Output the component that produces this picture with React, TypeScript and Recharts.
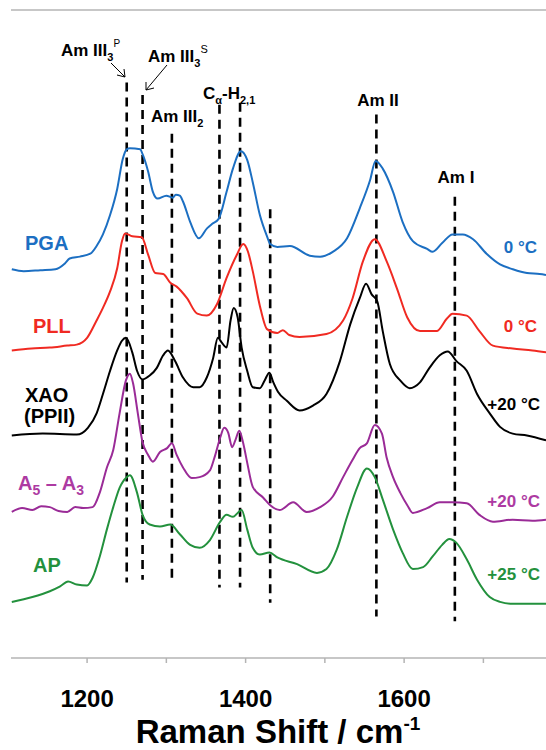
import { LineChart, Line, XAxis, YAxis, ReferenceLine } from 'recharts';

// Raman spectra, [shift cm-1, offset intensity]
const PGA: [number, number][] = [
  [1105, 3.32], [1120, 3.3], [1141, 3.31], [1160, 3.32], [1172, 3.38], [1178, 3.43], [1191, 3.45],
  [1204, 3.48], [1212, 3.56], [1220, 3.68], [1229, 3.88], [1238, 4.15], [1245, 4.46], [1250, 4.56],
  [1254, 4.57], [1267, 4.56], [1270, 4.51], [1277, 4.33], [1283, 4.12], [1289, 4.05], [1300, 4.08],
  [1308, 4.06], [1312, 4.09], [1317, 4.08], [1321, 4.02], [1330, 3.81], [1341, 3.64], [1351, 3.74],
  [1358, 3.79], [1366, 3.84], [1376, 4.12], [1384, 4.36], [1394, 4.54], [1402, 4.45], [1409, 4.22],
  [1418, 3.88], [1427, 3.66], [1431, 3.58], [1440, 3.55], [1456, 3.56], [1481, 3.46], [1494, 3.45],
  [1510, 3.5], [1528, 3.64], [1544, 3.95], [1557, 4.24], [1564, 4.44], [1573, 4.36], [1586, 4.12],
  [1598, 3.81], [1611, 3.61], [1629, 3.53], [1636, 3.5], [1648, 3.59], [1661, 3.68], [1674, 3.68],
  [1687, 3.63], [1704, 3.48], [1721, 3.37], [1737, 3.32], [1755, 3.28], [1771, 3.27], [1779, 3.26],
];

const PLL: [number, number][] = [
  [1105, 2.48], [1130, 2.5], [1153, 2.51], [1175, 2.53], [1187, 2.54], [1200, 2.61], [1212, 2.79],
  [1220, 2.92], [1229, 3.09], [1238, 3.33], [1244, 3.61], [1248, 3.69], [1257, 3.66], [1269, 3.65],
  [1277, 3.47], [1286, 3.28], [1296, 3.27], [1305, 3.18], [1313, 3.14], [1326, 3.02], [1339, 2.86],
  [1351, 2.84], [1364, 2.96], [1376, 3.23], [1389, 3.47], [1397, 3.58], [1403, 3.5], [1409, 3.3],
  [1418, 2.94], [1427, 2.7], [1440, 2.66], [1447, 2.69], [1455, 2.64], [1468, 2.62], [1502, 2.65],
  [1523, 2.79], [1535, 3.02], [1548, 3.4], [1563, 3.63], [1578, 3.4], [1591, 3.12], [1604, 2.82],
  [1620, 2.68], [1641, 2.68], [1654, 2.81], [1661, 2.86], [1679, 2.84], [1695, 2.68], [1712, 2.53],
  [1737, 2.5], [1762, 2.48], [1779, 2.46],
];

const XAO: [number, number][] = [
  [1105, 1.6], [1144, 1.62], [1187, 1.61], [1201, 1.68], [1212, 1.83], [1220, 2.03], [1229, 2.27],
  [1238, 2.48], [1244, 2.58], [1249, 2.61], [1257, 2.46], [1263, 2.27], [1270, 2.18], [1279, 2.22],
  [1288, 2.3], [1296, 2.43], [1302, 2.48], [1311, 2.37], [1321, 2.2], [1334, 2.1], [1342, 2.1],
  [1351, 2.2], [1359, 2.4], [1365, 2.61], [1370, 2.56], [1376, 2.51], [1381, 2.79], [1385, 2.92],
  [1390, 2.82], [1395, 2.51], [1402, 2.27], [1409, 2.1], [1418, 2.09], [1424, 2.17], [1430, 2.25],
  [1435, 2.15], [1441, 2.05], [1452, 1.96], [1468, 1.86], [1485, 1.91], [1502, 2.03], [1519, 2.37],
  [1532, 2.75], [1544, 3.02], [1552, 3.17], [1559, 3.06], [1566, 2.99], [1573, 2.68], [1582, 2.34],
  [1595, 2.17], [1607, 2.09], [1620, 2.15], [1632, 2.3], [1645, 2.43], [1655, 2.47], [1666, 2.37],
  [1679, 2.27], [1692, 2.03], [1708, 1.83], [1721, 1.69], [1737, 1.62], [1755, 1.6], [1779, 1.55],
];

const A5A3: [number, number][] = [
  [1105, 0.81], [1118, 0.85], [1131, 0.83], [1142, 0.87], [1153, 0.86], [1164, 0.82], [1175, 0.81],
  [1185, 0.86], [1195, 0.85], [1207, 0.86], [1216, 1.01], [1225, 1.27], [1233, 1.45], [1241, 1.83],
  [1249, 2.17], [1254, 2.24], [1258, 2.14], [1264, 1.83], [1270, 1.53], [1277, 1.4], [1283, 1.33],
  [1292, 1.43], [1301, 1.47], [1307, 1.52], [1313, 1.4], [1321, 1.27], [1332, 1.16], [1342, 1.17],
  [1355, 1.24], [1361, 1.38], [1368, 1.58], [1373, 1.68], [1378, 1.63], [1383, 1.48], [1387, 1.55],
  [1392, 1.65], [1397, 1.52], [1402, 1.32], [1409, 1.07], [1422, 0.96], [1431, 0.88], [1443, 0.83],
  [1460, 0.91], [1477, 0.81], [1494, 0.86], [1510, 0.97], [1523, 1.17], [1535, 1.35], [1544, 1.47],
  [1553, 1.52], [1563, 1.71], [1572, 1.62], [1578, 1.37], [1586, 1.17], [1595, 1.01], [1604, 0.88],
  [1611, 0.8], [1629, 0.85], [1645, 0.91], [1661, 0.91], [1679, 0.9], [1695, 0.78], [1712, 0.71],
  [1737, 0.73], [1762, 0.72], [1779, 0.73],
];

const AP: [number, number][] = [
  [1105, -0.12], [1131, -0.07], [1153, -0.01], [1166, 0.04], [1176, 0.09], [1187, 0.06], [1200, 0.05],
  [1207, 0.13], [1216, 0.35], [1225, 0.63], [1233, 0.86], [1241, 1.06], [1250, 1.17], [1254, 1.19],
  [1263, 1.01], [1270, 0.78], [1279, 0.68], [1292, 0.66], [1305, 0.68], [1317, 0.58], [1330, 0.47],
  [1342, 0.44], [1355, 0.52], [1368, 0.71], [1376, 0.78], [1384, 0.76], [1390, 0.8], [1395, 0.83],
  [1402, 0.63], [1409, 0.44], [1418, 0.37], [1430, 0.39], [1440, 0.34], [1465, 0.27], [1490, 0.18],
  [1502, 0.22], [1515, 0.42], [1528, 0.76], [1541, 1.07], [1553, 1.26], [1563, 1.17], [1573, 0.94],
  [1586, 0.63], [1598, 0.39], [1611, 0.22], [1624, 0.24], [1636, 0.35], [1648, 0.47], [1657, 0.53],
  [1666, 0.49], [1679, 0.32], [1692, 0.11], [1708, -0.07], [1721, -0.12], [1737, -0.14], [1779, -0.14],
];

// assigned bands (dashed markers)
const bandShift = [1250, 1270, 1307, 1367, 1393, 1431, 1565, 1664];
const bandTop = [5.25, 5.12, 4.72, 5.02, 5.04, 3.94, 4.92, 4.07];
const bandBottom = [0.08, 0.11, 0.07, 0.03, 0.03, -0.13, -0.27, -0.32];

const xTicks = [1200, 1300, 1400, 1500, 1600, 1700];
const xLabels = [1200, 1400, 1600];
const yTicks = [0, 1, 2, 3, 4, 5];

const FONT = '"Liberation Sans", Arial, sans-serif';
const AXIS = '#b4b4b4';

const series = [
  { name: 'PGA', data: PGA, color: '#1c6fc2' },
  { name: 'PLL', data: PLL, color: '#f02a22' },
  { name: 'XAO', data: XAO, color: '#000000' },
  { name: 'A5A3', data: A5A3, color: '#9a2b97' },
  { name: 'AP', data: AP, color: '#23913d' },
];

const toRows = (d: [number, number][]) => d.map(([x, v]) => ({ x, v }));

export default function App() {
  return (
    <div style={{ position: 'absolute', left: 0, top: 0, width: 546, height: 750, background: '#fff', overflow: 'hidden' }}>
      <LineChart width={546} height={750} margin={{ top: 10, right: 0, bottom: 0, left: 11 }}>
        <XAxis
          dataKey="x"
          type="number"
          domain={[1104, 1779]}
          ticks={xTicks}
          tickSize={5}
          tickMargin={27}
          height={92}
          stroke={AXIS}
          strokeWidth={1.5}
          tickFormatter={(t: number) => (xLabels.includes(t) ? String(t) : '')}
          tick={{ fill: '#000', fontSize: 24, fontWeight: 700, fontFamily: FONT }}
          allowDuplicatedCategory={false}
        />
        <YAxis
          type="number"
          domain={[-0.7, 6]}
          ticks={yTicks}
          width={0}
          tickSize={4}
          stroke={AXIS}
          strokeWidth={1.5}
          tickFormatter={() => ''}
        />
        <ReferenceLine y={6} stroke={AXIS} strokeWidth={1.5} />
        {bandShift.map((s, i) => (
          <ReferenceLine
            key={`band-${s}`}
            segment={[{ x: s, y: bandTop[i] }, { x: s, y: bandBottom[i] }]}
            stroke="#000"
            strokeWidth={2.6}
            strokeDasharray="9 6"
          />
        ))}
        {series.map((s) => (
          <Line
            key={s.name}
            data={toRows(s.data)}
            dataKey="v"
            type="monotone"
            stroke={s.color}
            strokeWidth={2}
            dot={false}
            isAnimationActive={false}
          />
        ))}
      </LineChart>
      <svg
        width={546}
        height={750}
        style={{ position: 'absolute', left: 0, top: 0, pointerEvents: 'none' }}
        fontFamily={FONT}
        fontWeight={700}
      >
        <g fill="#000" fontSize={17}>
          <text x={61} y={56}>
            Am III<tspan dy={5} fontSize={11}>3</tspan>
            <tspan dy={-14} fontSize={10} fontWeight={400}>P</tspan>
          </text>
          <text x={148} y={62}>
            Am III<tspan dy={5} fontSize={11}>3</tspan>
            <tspan dy={-14} fontSize={11} fontWeight={400}>S</tspan>
          </text>
          <text x={151} y={122}>
            Am III<tspan dy={5} fontSize={11}>2</tspan>
          </text>
          <text x={203} y={99}>
            C<tspan dy={5} fontSize={11}>α</tspan>
            <tspan dy={-5}>-H</tspan>
            <tspan dy={5} fontSize={11}>2,1</tspan>
          </text>
          <text x={378} y={106} textAnchor="middle">Am II</text>
          <text x={456} y={183} textAnchor="middle">Am I</text>
        </g>
        <g stroke="#000" strokeWidth={1} fill="none">
          <line x1={111} y1={63} x2={125} y2={77} />
          <polyline points="117,75 125,77 124,69" />
          <line x1={167} y1={65} x2={146} y2={90} />
          <polyline points="146,82 146,90 154,88" />
        </g>
        <g fontSize={20}>
          <text x={25} y={250} fill="#1c6fc2">PGA</text>
          <text x={33} y={333} fill="#f02a22">PLL</text>
          <text x={25} y={402} fill="#000">XAO</text>
          <text x={24} y={423} fill="#000">(PPII)</text>
          <text x={18} y={490} fill="#ad3aa2">
            A<tspan dy={5} fontSize={14}>5</tspan>
            <tspan dy={-5}> – A</tspan>
            <tspan dy={5} fontSize={14}>3</tspan>
          </text>
          <text x={33} y={572} fill="#23913d">AP</text>
        </g>
        <g fontSize={17} textAnchor="end">
          <text x={537} y={253} fill="#1c6fc2">0 °C</text>
          <text x={537} y={332} fill="#f02a22">0 °C</text>
          <text x={540} y={410} fill="#000">+20 °C</text>
          <text x={540} y={507} fill="#ad3aa2">+20 °C</text>
          <text x={540} y={580} fill="#23913d">+25 °C</text>
        </g>
        <text x={278} y={743} textAnchor="middle" fontSize={33} fill="#000">
          Raman Shift / cm<tspan dy={-13} fontSize={19}>-1</tspan>
        </text>
      </svg>
    </div>
  );
}
